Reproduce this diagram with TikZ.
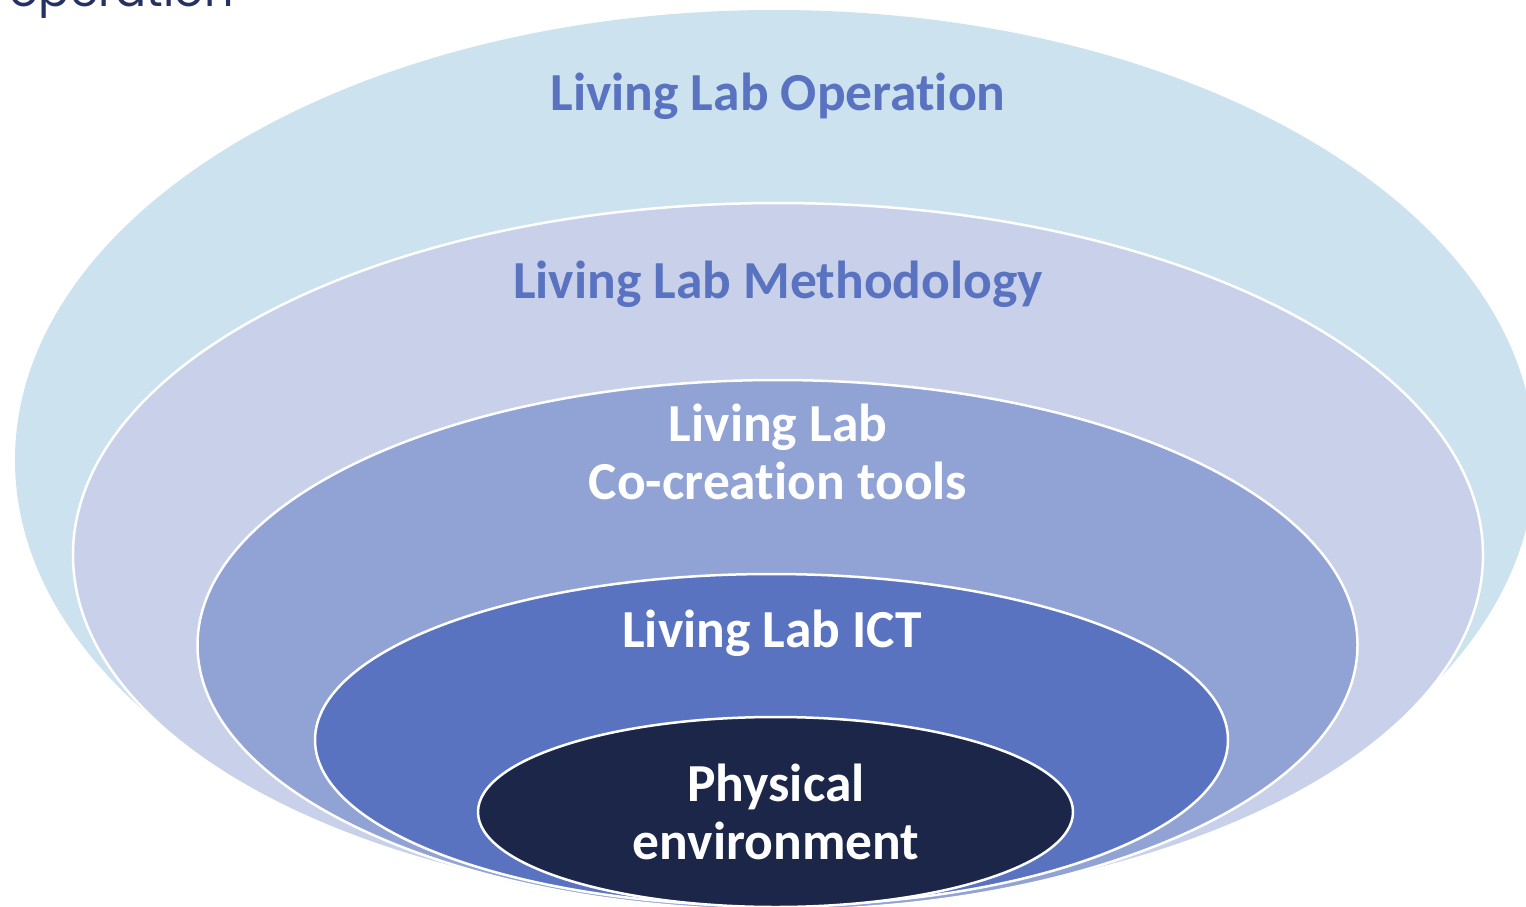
\documentclass[tikz,border=0pt]{standalone}
\usepackage{fontspec}
\setmainfont{Carlito}[Ligatures=NoCommon]
\newfontfamily\headfont{Poppins}
\definecolor{opc}{HTML}{CCE2EF}
\definecolor{mec}{HTML}{C8D0EA}
\definecolor{coc}{HTML}{91A2D5}
\definecolor{ictc}{HTML}{5A73C0}
\definecolor{phc}{HTML}{1C2648}
\definecolor{navy}{HTML}{253161}
\begin{document}
\begin{tikzpicture}[x=1pt,y=-1pt,
  ring/.style={draw=white,line width=2.5pt},
  lbl/.style={font=\bfseries\fontsize{53.5}{58}\selectfont,align=center,inner sep=0pt},
  lblb/.style={lbl,text=ictc},
  lblw/.style={lbl,text=white}]
\useasboundingbox (0,0) rectangle (1526,907);
\clip (0,0) rectangle (1526,907);
\fill[opc] (775,460) ellipse [x radius=760, y radius=450];
\path[ring,fill=mec] (778,555) ellipse [x radius=705, y radius=352];
\path[ring,fill=coc] (777.5,645) ellipse [x radius=580, y radius=265];
\path[ring,fill=ictc] (771.5,740) ellipse [x radius=456.5, y radius=166];
\path[ring,fill=phc] (775.5,812) ellipse [x radius=297.5, y radius=95];
\node[lblb] (op) at (778,96) {Living Lab Operation};
\node[lblb] (me) at (778,284) {Living Lab Methodology};
\node[lblw] (co) at (778,452) {Living Lab\\Co-creation tools};
\node[lblw] (ict) at (772,633) {Living Lab ICT};
\node[lblw] (ph) at (776,812) {Physical\\environment};
\node[anchor=base east,inner sep=0pt,text=navy,font=\headfont\fontsize{46}{50}\selectfont] (title) at (234,7) {operation};
\end{tikzpicture}
\end{document}
